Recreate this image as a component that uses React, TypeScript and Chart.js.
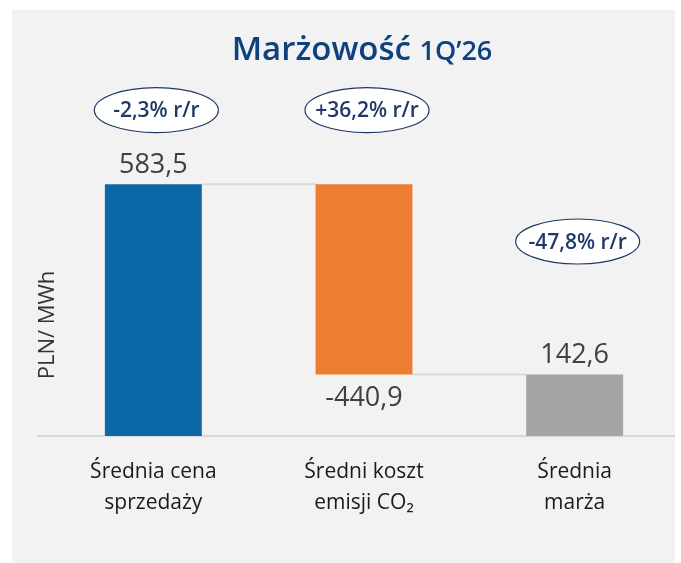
import React, { useEffect, useRef } from "react";
import { Chart, registerables } from "chart.js";

Chart.register(...registerables);

const categories: string[][] = [
  ["Średnia cena", "sprzedaży"],
  ["Średni koszt", "emisji CO₂"],
  ["Średnia", "marża"],
];
const barStart = [0, 142.6, 0];
const barEnd = [583.5, 583.5, 142.6];
const valueLabels = ["583,5", "-440,9", "142,6"];
const changeLabels = ["-2,3% r/r", "+36,2% r/r", "-47,8% r/r"];
const barColors = ["#0b67a6", "#ed7d31", "#a5a5a5"];
const titleMain = "Marżowość";
const titleSub = "1Q’26";
const yTitle = "PLN/ MWh";

const FONT = "'Open Sans', 'Noto Sans', sans-serif";

const overlay = {
  id: "overlay",
  beforeDatasetsDraw(chart: any) {
    const { ctx, scales } = chart;
    const y = scales.y;
    const meta = chart.getDatasetMeta(0);
    ctx.save();
    ctx.strokeStyle = "#d9d9d9";
    ctx.lineWidth = 2;
    const y0 = y.getPixelForValue(0);
    ctx.beginPath();
    ctx.moveTo(37, y0);
    ctx.lineTo(675, y0);
    ctx.stroke();
    for (let i = 0; i < meta.data.length - 1; i++) {
      const a = meta.data[i];
      const b = meta.data[i + 1];
      const level = i === 0 ? barEnd[0] : barStart[1];
      const py = y.getPixelForValue(level);
      ctx.beginPath();
      ctx.moveTo(a.x + a.width / 2, py);
      ctx.lineTo(b.x - b.width / 2, py);
      ctx.stroke();
    }
    ctx.restore();
  },
  afterDatasetsDraw(chart: any) {
    const { ctx, scales } = chart;
    const x = scales.x;
    const y = scales.y;
    ctx.save();
    ctx.fillStyle = "#404040";
    ctx.font = `27px ${FONT}`;
    ctx.textAlign = "center";
    ctx.textBaseline = "middle";
    const lab = [
      y.getPixelForValue(barEnd[0]) - 19,
      y.getPixelForValue(barStart[1]) + 24,
      y.getPixelForValue(barEnd[2]) - 19,
    ];
    valueLabels.forEach((t, i) => {
      ctx.fillText(t, x.getPixelForValue(i), lab[i]);
    });
    const ell = [
      y.getPixelForValue(barEnd[0]) - 74,
      y.getPixelForValue(barEnd[1]) - 74,
      y.getPixelForValue(barEnd[2]) - 133,
    ];
    changeLabels.forEach((t, i) => {
      const cx = x.getPixelForValue(i) + 3;
      const cy = ell[i];
      ctx.beginPath();
      ctx.ellipse(cx, cy, 62, 22.5, 0, 0, Math.PI * 2);
      ctx.fillStyle = "#ffffff";
      ctx.fill();
      ctx.lineWidth = 1.2;
      ctx.strokeStyle = "#1f3864";
      ctx.stroke();
      ctx.fillStyle = "#1f3a68";
      ctx.font = `600 21px ${FONT}`;
      ctx.fillText(t, cx, cy + 1);
    });
    ctx.fillStyle = "#0f417f";
    ctx.font = `600 33px ${FONT}`;
    const w1 = ctx.measureText(titleMain + " ").width;
    ctx.font = `600 27px ${FONT}`;
    const w2 = ctx.measureText(titleSub).width;
    const start = 362 - (w1 + w2) / 2;
    ctx.textAlign = "left";
    ctx.textBaseline = "alphabetic";
    ctx.font = `600 33px ${FONT}`;
    ctx.fillText(titleMain + " ", start, 60);
    ctx.font = `600 27px ${FONT}`;
    ctx.fillText(titleSub, start + w1, 60);
    ctx.translate(48, 325);
    ctx.rotate(-Math.PI / 2);
    ctx.textAlign = "center";
    ctx.textBaseline = "middle";
    ctx.fillStyle = "#333333";
    ctx.font = `22px ${FONT}`;
    ctx.fillText(yTitle, 0, 0);
    ctx.restore();
  },
};

export default function App() {
  const ref = useRef<HTMLCanvasElement | null>(null);
  useEffect(() => {
    if (!ref.current) return;
    const chart = new Chart(ref.current, {
      type: "bar",
      data: {
        labels: categories,
        datasets: [
          {
            data: barStart.map((s, i) => [s, barEnd[i]]) as any,
            backgroundColor: barColors,
            borderWidth: 0,
            categoryPercentage: 1,
            barPercentage: 0.46,
          },
        ],
      },
      options: {
        animation: false,
        responsive: false,
        layout: { padding: { left: 48, right: 1, top: 177, bottom: 24 } },
        plugins: { legend: { display: false }, tooltip: { enabled: false }, title: { display: false } },
        scales: {
          x: {
            grid: { display: false, drawTicks: false, tickLength: 0 },
            border: { display: false },
            ticks: {
              color: "#1a1a1a",
              padding: 21,
              font: { family: FONT, size: 21, weight: 500, lineHeight: 1.45 },
              maxRotation: 0,
              autoSkip: false,
            },
          },
          y: { display: false, min: 0, max: 600 },
        },
      },
      plugins: [overlay],
    });
    return () => chart.destroy();
  }, []);
  return (
    <div style={{ position: "absolute", left: 0, top: 0, width: 681, height: 563, background: "#ffffff" }}>
      <div style={{ position: "absolute", left: 12, top: 10, width: 663, height: 553, background: "#f2f2f2" }} />
      <canvas ref={ref} width={681} height={563} style={{ position: "absolute", left: 0, top: 0, display: "block" }} />
    </div>
  );
}
